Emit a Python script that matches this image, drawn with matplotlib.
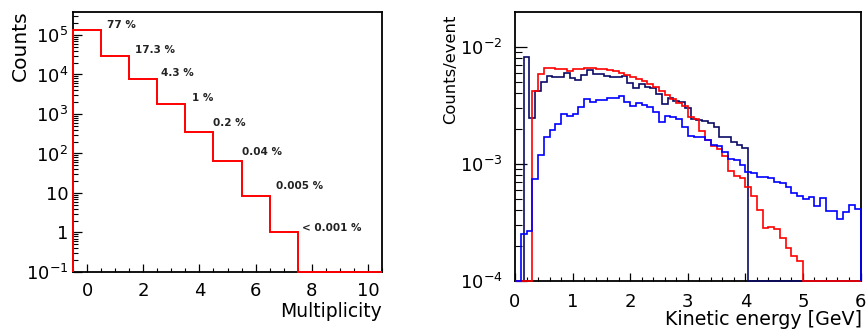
import numpy as np
import matplotlib
matplotlib.use('Agg')
from matplotlib import pyplot as plt
from matplotlib.ticker import LogLocator, NullFormatter, FixedLocator, FixedFormatter, MultipleLocator

# ---- left panel: multiplicity ----
mult_edges = np.arange(-0.5, 11.0, 1.0)
mult_counts = [1.34e5, 2.99e4, 7.7e3, 1.76e3, 357, 66, 8.4, 1.0, 0, 0, 0]
pct_labels = ['77 %', '17.3 %', '4.3 %', '1 %', '0.2 %', '0.04 %', '0.005 %', '< 0.001 %']
pct_x = [0.70, 1.71, 2.63, 3.73, 4.50, 5.50, 6.73, 7.64]
pct_y = [1.79e5, 4.17e4, 1.09e4, 2.54e3, 590, 110, 15.1, 1.3]

# ---- right panel: kinetic energy, 0.1 GeV bins ----
ke_edges = np.round(np.arange(0, 6.05, 0.1), 2)
ke_red = [0, 0, 0, 4.19e-3, 5.85e-3, 6.62e-3, 6.62e-3, 6.42e-3, 6.42e-3, 6.24e-3,
          6.49e-3, 6.49e-3, 6.55e-3, 6.55e-3, 6.49e-3, 6.42e-3, 6.33e-3, 6.21e-3, 5.97e-3, 5.74e-3,
          5.55e-3, 5.30e-3, 5.10e-3, 4.81e-3, 4.51e-3, 4.19e-3, 3.88e-3, 3.56e-3, 3.29e-3, 3.14e-3,
          2.53e-3, 2.40e-3, 1.92e-3, 1.60e-3, 1.42e-3, 1.34e-3, 1.17e-3, 8.71e-4, 7.82e-4, 7.55e-4,
          6.40e-4, 5.28e-4, 4.05e-4, 2.83e-4, 2.87e-4, 2.77e-4, 2.33e-4, 1.92e-4, 1.62e-4, 1.49e-4,
          0, 0, 0, 0, 0, 0, 0, 0, 0, 0]
ke_blue = [0, 2.52e-4, 2.65e-4, 7.45e-4, 1.19e-3, 1.68e-3, 1.95e-3, 2.21e-3, 2.65e-3, 2.55e-3,
           2.68e-3, 3.07e-3, 3.57e-3, 3.40e-3, 3.51e-3, 3.52e-3, 3.63e-3, 3.67e-3, 3.80e-3, 3.40e-3,
           3.14e-3, 3.29e-3, 3.16e-3, 3.08e-3, 2.79e-3, 2.29e-3, 2.57e-3, 2.50e-3, 2.40e-3, 2.08e-3,
           1.73e-3, 1.71e-3, 1.68e-3, 1.60e-3, 1.45e-3, 1.41e-3, 1.27e-3, 1.10e-3, 1.08e-3, 9.8e-4,
           8.60e-4, 8.33e-4, 7.79e-4, 7.79e-4, 7.64e-4, 7.06e-4, 6.85e-4, 6.30e-4, 5.66e-4, 5.36e-4,
           5.01e-4, 5.18e-4, 4.39e-4, 5.10e-4, 3.97e-4, 3.97e-4, 3.38e-4, 3.92e-4, 4.43e-4, 4.12e-4]
# third sample is binned with edges shifted by half a bin
ke_navy_edges = np.round(np.arange(-0.05, 6.1, 0.1), 2)
ke_navy = [0, 0, 8.22e-3, 2.45e-3, 4.19e-3, 4.97e-3, 5.62e-3, 5.48e-3, 5.57e-3, 6.00e-3,
           5.36e-3, 5.25e-3, 5.79e-3, 6.33e-3, 5.91e-3, 5.85e-3, 5.62e-3, 5.57e-3, 5.57e-3, 5.62e-3,
           4.90e-3, 4.42e-3, 4.78e-3, 4.49e-3, 4.42e-3, 3.95e-3, 3.25e-3, 3.62e-3, 3.41e-3, 3.36e-3,
           2.98e-3, 2.42e-3, 2.35e-3, 2.33e-3, 2.24e-3, 2.08e-3, 1.70e-3, 1.70e-3, 1.53e-3, 1.45e-3,
           1.36e-3, 0, 0, 0, 0, 0, 0, 0, 0, 0,
           0, 0, 0, 0, 0, 0, 0, 0, 0, 0, 0]

fig = plt.figure(figsize=(8.68, 3.35), dpi=100)

# left
ymin1, ymax1 = 0.1, 3.82e5
ax1 = fig.add_axes([73/868, 1-272/335, 309/868, 260/335])
ax1.stairs(np.maximum(mult_counts, ymin1), mult_edges, baseline=ymin1,
           color='red', lw=1.4, zorder=3, clip_on=False)
ax1.set_yscale('log')
ax1.set_xlim(-0.5, 10.5)
ax1.set_ylim(ymin1, ymax1)
for lab, x, y in zip(pct_labels, pct_x, pct_y):
    ax1.text(x, y, lab, fontsize=7.5, fontweight='bold', color='#222222',
             ha='left', va='center')
ax1.yaxis.set_major_locator(FixedLocator([1e-1, 1, 10, 1e2, 1e3, 1e4, 1e5]))
ax1.yaxis.set_major_formatter(FixedFormatter([r'$10^{-1}$', '1', '10', r'$10^{2}$',
                                              r'$10^{3}$', r'$10^{4}$', r'$10^{5}$']))
ax1.yaxis.set_minor_locator(LogLocator(base=10, subs=np.arange(2, 10), numticks=20))
ax1.yaxis.set_minor_formatter(NullFormatter())
ax1.xaxis.set_major_locator(MultipleLocator(2))
ax1.xaxis.set_minor_locator(MultipleLocator(0.5))
ax1.tick_params(axis='y', which='major', direction='in', length=6.5, width=0.9, labelsize=13, pad=3.5)
ax1.tick_params(axis='y', which='minor', direction='in', length=3.6, width=0.8)
ax1.tick_params(axis='x', which='major', direction='in', length=5.8, width=0.9, labelsize=13, pad=7)
ax1.tick_params(axis='x', which='minor', direction='in', length=3, width=0.8)
for s in ax1.spines.values():
    s.set_linewidth(1.3)
fig.text(382/868, 1-302/335, 'Multiplicity', fontsize=13.5, ha='right', va='top')
fig.text(20/868, 1-10/335, 'Counts', fontsize=14.6, rotation=90, ha='center', va='top')

# right
ymin2, ymax2 = 1e-4, 1.98e-2
ax2 = fig.add_axes([515/868, 1-281/335, 345.5/868, 269/335])
ax2.stairs(np.maximum(ke_navy, ymin2), np.clip(ke_navy_edges, 0, 6), baseline=ymin2,
           color='#0a0a66', lw=1.2, zorder=3, clip_on=False)
ax2.stairs(np.maximum(ke_red, ymin2), ke_edges, baseline=ymin2, color='red', lw=1.2,
           zorder=3, clip_on=False)
ax2.stairs(np.maximum(ke_blue, ymin2), ke_edges, baseline=ymin2, color='#0000ff', lw=1.2,
           zorder=3, clip_on=False)
ax2.set_yscale('log')
ax2.set_xlim(0, 6)
ax2.set_ylim(ymin2, ymax2)
ax2.yaxis.set_major_locator(FixedLocator([1e-4, 1e-3, 1e-2]))
ax2.yaxis.set_major_formatter(FixedFormatter([r'$10^{-4}$', r'$10^{-3}$', r'$10^{-2}$']))
ax2.yaxis.set_minor_locator(LogLocator(base=10, subs=np.arange(2, 10), numticks=20))
ax2.yaxis.set_minor_formatter(NullFormatter())
ax2.xaxis.set_major_locator(MultipleLocator(1))
ax2.xaxis.set_minor_locator(MultipleLocator(0.2))
ax2.tick_params(axis='y', which='major', direction='in', length=8.6, width=0.9, labelsize=13, pad=9)
ax2.tick_params(axis='y', which='minor', direction='in', length=5, width=0.8)
ax2.tick_params(axis='x', which='major', direction='in', length=5.5, width=0.9, labelsize=13, pad=8.5)
ax2.tick_params(axis='x', which='minor', direction='in', length=3, width=0.8)
for s in ax2.spines.values():
    s.set_linewidth(1.3)
fig.text(862/868, 1-310/335, 'Kinetic energy [GeV]', fontsize=13.7, ha='right', va='top')
fig.text(451/868, 1-15/335, 'Counts/event', fontsize=11.8, rotation=90, ha='center', va='top')

fig.savefig('out.png', dpi=100)
